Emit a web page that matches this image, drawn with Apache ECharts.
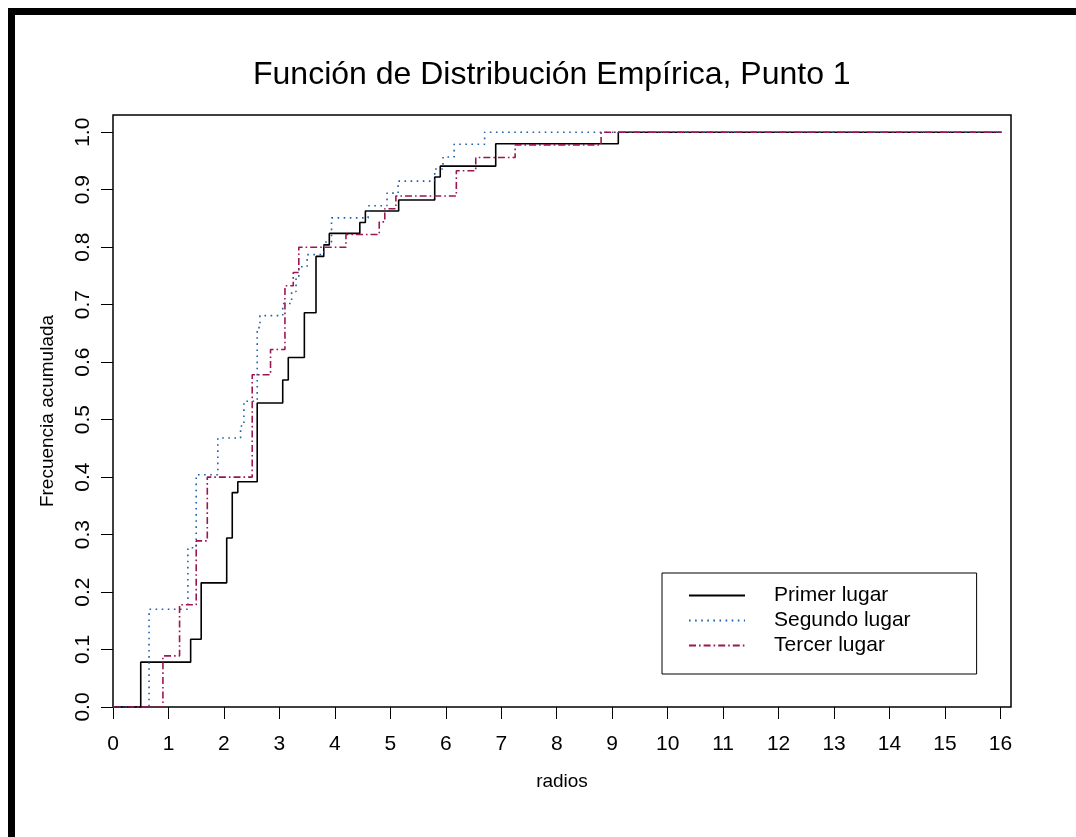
<!DOCTYPE html>
<html>
<head>
<meta charset="utf-8">
<script src="https://cdn.jsdelivr.net/npm/echarts@6/dist/echarts.min.js"></script>
<style>
html,body{margin:0;padding:0;background:#fff;}
#main{width:1076px;height:837px;}
</style>
</head>
<body>
<div id="main"></div>
<script>
// Tick labels
const xTicks = [0,1,2,3,4,5,6,7,8,9,10,11,12,13,14,15,16];
const yTicks = [0,0.1,0.2,0.3,0.4,0.5,0.6,0.7,0.8,0.9,1.0];
const seriesNames = ['Primer lugar','Segundo lugar','Tercer lugar'];

// Empirical CDF jump points (x = radio, y = cumulative frequency)
const primerX = [0, 0.50, 1.40, 1.59, 2.05, 2.15, 2.25, 2.60, 3.06, 3.16, 3.45, 3.66, 3.80, 3.90, 4.45, 4.55, 5.15, 5.80, 5.90, 6.90, 9.11, 16.02];
const primerY = [0, 0.078, 0.118, 0.216, 0.294, 0.373, 0.392, 0.529, 0.569, 0.608, 0.686, 0.784, 0.804, 0.824, 0.843, 0.863, 0.882, 0.922, 0.941, 0.980, 1.0, 1.0];

const segundoX = [0, 0.65, 1.35, 1.50, 1.89, 2.30, 2.36, 2.60, 2.65, 3.06, 3.22, 3.30, 3.35, 3.50, 3.80, 3.94, 4.60, 4.94, 5.14, 5.80, 5.95, 6.15, 6.70, 16.02];
const segundoY = [0, 0.170, 0.277, 0.404, 0.468, 0.489, 0.532, 0.660, 0.681, 0.702, 0.723, 0.745, 0.766, 0.787, 0.809, 0.851, 0.872, 0.894, 0.915, 0.936, 0.957, 0.979, 1.0, 1.0];

const tercerX = [0, 0.90, 1.20, 1.50, 1.70, 2.51, 2.84, 3.10, 3.25, 3.35, 4.20, 4.80, 4.90, 5.10, 6.19, 6.54, 7.25, 8.80, 16.02];
const tercerY = [0, 0.089, 0.178, 0.289, 0.400, 0.578, 0.622, 0.733, 0.756, 0.800, 0.822, 0.844, 0.867, 0.889, 0.933, 0.956, 0.978, 1.0, 1.0];

function pairs(xs, ys){ return xs.map((x,i)=>[x, ys[i]]); }

const FONT = '"Liberation Sans", Arial, Helvetica, sans-serif';
const chart = echarts.init(document.getElementById('main'), null, {renderer:'canvas'});

const option = {
  backgroundColor: '#fff',
  animation: false,
  textStyle: { fontFamily: FONT, color: '#000' },
  title: {
    text: 'Función de Distribución Empírica, Punto 1',
    left: 248,
    top: 54,
    textStyle: { fontFamily: FONT, fontSize: 32, fontWeight: 'normal', color: '#000' }
  },
  graphic: [
    { type: 'rect', shape: { x: 8, y: 8, width: 7, height: 829 }, style: { fill: '#000' }, silent: true },
    { type: 'rect', shape: { x: 8, y: 8, width: 1068, height: 7 }, style: { fill: '#000' }, silent: true }
  ],
  grid: {
    left: 113, top: 115, right: 65, bottom: 130,
    show: true, borderColor: '#000', borderWidth: 1.5, backgroundColor: 'transparent'
  },
  legend: {
    show: true,
    orient: 'vertical',
    left: 662, top: 573,
    data: seriesNames,
    padding: [12, 66, 18, 26],
    backgroundColor: '#fff',
    borderColor: '#000', borderWidth: 1,
    itemWidth: 56, itemHeight: 14, itemGap: 4,
    itemStyle: { opacity: 0 },
    textStyle: { fontFamily: FONT, fontSize: 21, color: '#000', padding: [0, 0, 0, 24] },
    selectedMode: false
  },
  xAxis: {
    type: 'value', min: 0, max: 16.19,
    name: 'radios', nameLocation: 'middle', nameGap: 65,
    nameTextStyle: { fontFamily: FONT, fontSize: 19, color: '#000' },
    axisLine: { show: false },
    axisTick: { show: true, length: 12, lineStyle: { color: '#000', width: 1 }, customValues: xTicks },
    axisLabel: { fontFamily: FONT, fontSize: 21, color: '#000', margin: 27, customValues: xTicks,
      formatter: v => String(v) },
    splitLine: { show: false }
  },
  yAxis: {
    type: 'value', min: 0, max: 1.03,
    name: 'Frecuencia acumulada', nameLocation: 'middle', nameGap: 56, nameRotate: 90,
    nameTextStyle: { fontFamily: FONT, fontSize: 19, color: '#000' },
    axisLine: { show: false },
    axisTick: { show: true, length: 12, lineStyle: { color: '#000', width: 1 }, customValues: yTicks },
    axisLabel: { fontFamily: FONT, fontSize: 21, color: '#000', margin: 19, rotate: 90, customValues: yTicks,
      formatter: v => v.toFixed(1) },
    splitLine: { show: false }
  },
  series: [
    { name: seriesNames[0], type: 'line', step: 'end', showSymbol: false, symbol: 'none',
      data: pairs(primerX, primerY),
      itemStyle: { color: '#000' },
      lineStyle: { color: '#000', width: 1.6, type: 'solid' }, z: 2 },
    { name: seriesNames[1], type: 'line', step: 'end', showSymbol: false, symbol: 'none',
      data: pairs(segundoX, segundoY),
      itemStyle: { color: '#1f5fa8' },
      lineStyle: { color: '#1f5fa8', width: 1.6, type: [1.6, 4.5] }, z: 3 },
    { name: seriesNames[2], type: 'line', step: 'end', showSymbol: false, symbol: 'none',
      data: pairs(tercerX, tercerY),
      itemStyle: { color: '#9b1652' },
      lineStyle: { color: '#9b1652', width: 1.6, type: [7, 3, 1.6, 3] }, z: 4 }
  ]
};
chart.setOption(option);
</script>
</body>
</html>
